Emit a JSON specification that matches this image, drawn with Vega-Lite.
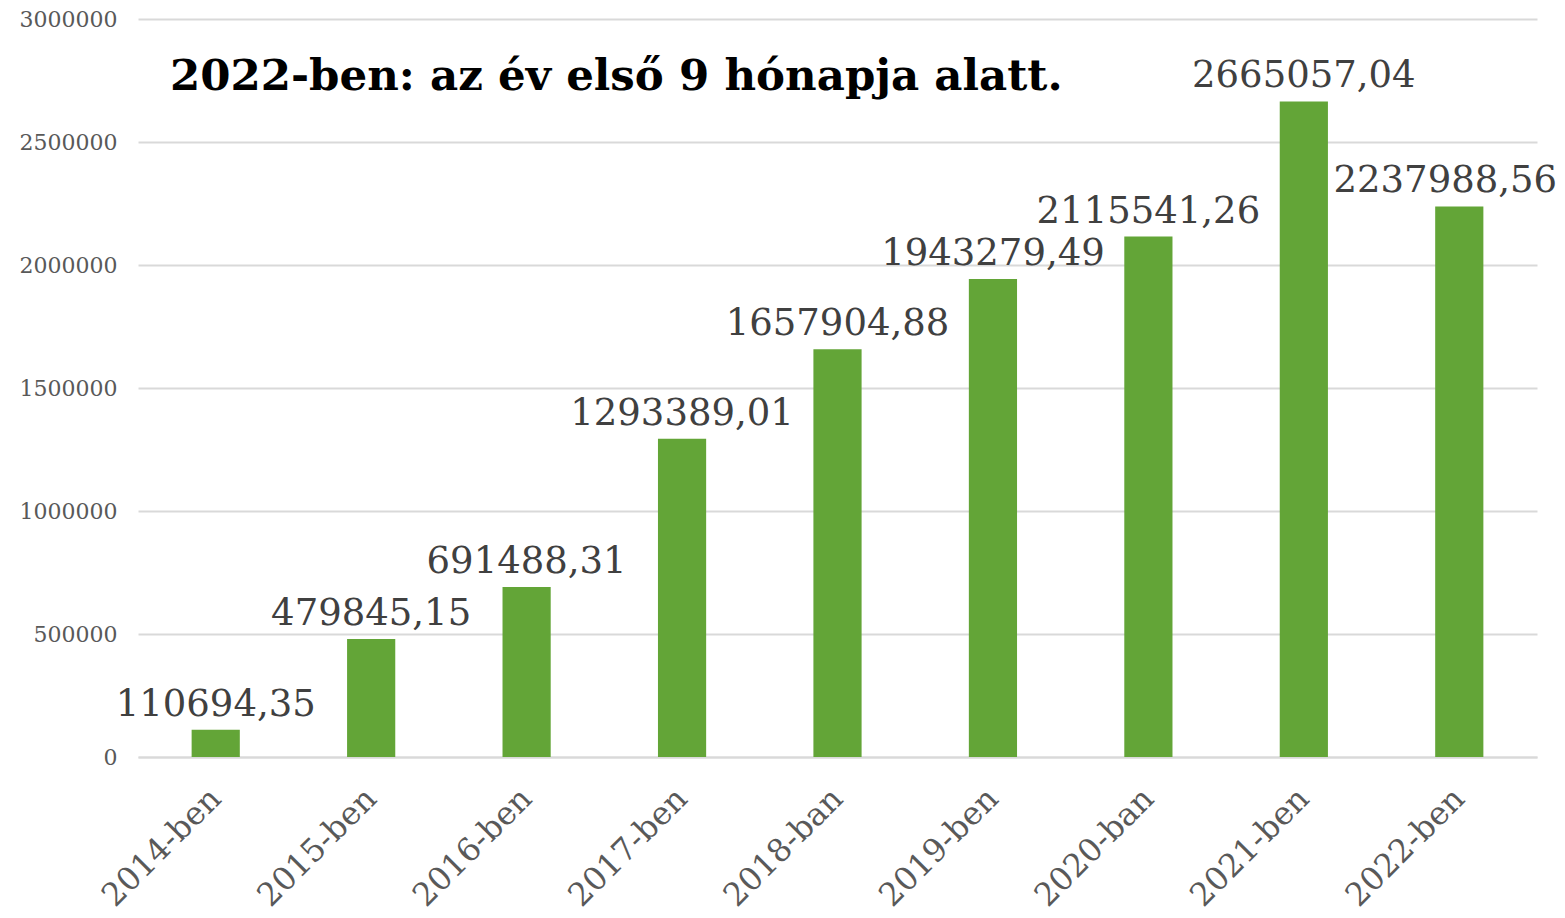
{
  "$schema": "https://vega.github.io/schema/vega-lite/v6.json",
  "autosize": "none",
  "width": 1399,
  "height": 738,
  "padding": {"left": 138, "top": 19, "right": 28, "bottom": 161},
  "background": "white",
  "title": {
    "text": "2022-ben: az év első 9 hónapja alatt.",
    "anchor": "start",
    "frame": "group",
    "orient": "top",
    "offset": 0,
    "baseline": "alphabetic",
    "dx": 32,
    "dy": 125,
    "font": "DejaVu Serif",
    "fontSize": 43.5,
    "fontWeight": "bold",
    "color": "#000000"
  },
  "data": {
    "values": [
      {"ev": "2014-ben", "ertek": 110694.35, "label": "110694,35"},
      {"ev": "2015-ben", "ertek": 479845.15, "label": "479845,15"},
      {"ev": "2016-ben", "ertek": 691488.31, "label": "691488,31"},
      {"ev": "2017-ben", "ertek": 1293389.01, "label": "1293389,01"},
      {"ev": "2018-ban", "ertek": 1657904.88, "label": "1657904,88"},
      {"ev": "2019-ben", "ertek": 1943279.49, "label": "1943279,49"},
      {"ev": "2020-ban", "ertek": 2115541.26, "label": "2115541,26"},
      {"ev": "2021-ben", "ertek": 2665057.04, "label": "2665057,04"},
      {"ev": "2022-ben", "ertek": 2237988.56, "label": "2237988,56"}
    ]
  },
  "encoding": {
    "x": {
      "field": "ev",
      "type": "nominal",
      "sort": null,
      "title": null,
      "scale": {"paddingInner": 0.69, "paddingOuter": 0.345},
      "axis": {
        "labelAngle": -45,
        "labelAlign": "right",
        "labelBaseline": "middle",
        "labelFont": "DejaVu Serif",
        "labelFontSize": 32,
        "labelColor": "#595959",
        "labelPadding": 36,
        "ticks": false,
        "domainColor": "#d9d9d9",
        "domainWidth": 2,
        "grid": false
      }
    },
    "y": {
      "field": "ertek",
      "type": "quantitative",
      "title": null,
      "scale": {"domain": [0, 3000000], "nice": false},
      "axis": {
        "values": [0, 500000, 1000000, 1500000, 2000000, 2500000, 3000000],
        "format": "d",
        "labelFont": "DejaVu Serif",
        "labelFontSize": 22,
        "labelColor": "#595959",
        "labelPadding": 21,
        "ticks": false,
        "domain": false,
        "gridColor": "#d9d9d9",
        "gridWidth": 2
      }
    }
  },
  "layer": [
    {"mark": {"type": "bar", "color": "#63a537"}},
    {
      "transform": [{"filter": "datum.ev != '2022-ben'"}],
      "mark": {
        "type": "text",
        "font": "DejaVu Serif",
        "fontSize": 37,
        "color": "#404040",
        "baseline": "alphabetic",
        "dy": -14
      },
      "encoding": {"text": {"field": "label"}}
    },
    {
      "transform": [{"filter": "datum.ev == '2022-ben'"}],
      "mark": {
        "type": "text",
        "font": "DejaVu Serif",
        "fontSize": 37,
        "color": "#404040",
        "baseline": "alphabetic",
        "dy": -14,
        "dx": -14
      },
      "encoding": {"text": {"field": "label"}}
    }
  ],
  "config": {"view": {"stroke": null}}
}
